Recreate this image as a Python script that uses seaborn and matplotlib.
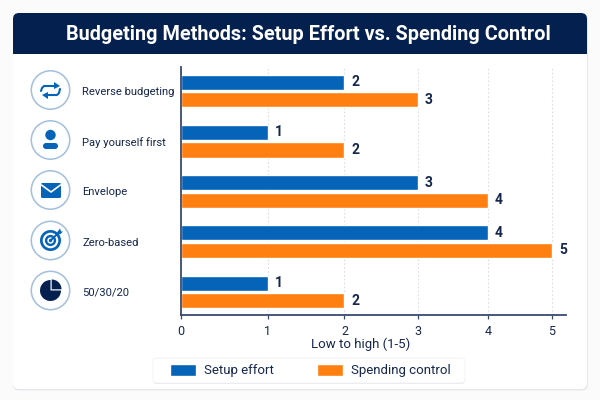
from matplotlib.patches import Circle, FancyBboxPatch, Polygon, Rectangle, Wedge
import matplotlib.pyplot as plt
import numpy as np
import pandas as pd
import seaborn as sns

# ── Data ─────────────────────────────────────────────────────────────────────
METHODS = ["Reverse budgeting", "Pay yourself first", "Envelope", "Zero-based", "50/30/20"]
SETUP_EFFORT = [2, 1, 3, 4, 1]
SPENDING_CONTROL = [3, 2, 4, 5, 2]
X_TICKS = [0, 1, 2, 3, 4, 5]

NAVY = "#04204f"
INK = "#15264d"
BLUE = "#0563b8"
ORANGE = "#ff7f11"

# the reference spaces its axis unevenly, so the scale follows its tick spacing
SCALE_VALUES = [0, 1, 2, 3, 4, 5, 6]
SCALE_STOPS = [0, 87, 163.5, 237, 307, 371, 435]

df = pd.DataFrame({
    "Method": METHODS * 2,
    "Score": SETUP_EFFORT + SPENDING_CONTROL,
    "Series": ["Setup effort"] * 5 + ["Spending control"] * 5,
})

sns.set_theme(style="white")
plt.rcParams["font.family"] = ["Roboto", "DejaVu Sans"]

fig = plt.figure(figsize=(6, 4), dpi=100, facecolor="#fbfbfc")

# ── Card, header and icons, in pixel coordinates ─────────────────────────────
bg = fig.add_axes([0, 0, 1, 1], zorder=0)
bg.set_xlim(0, 600)
bg.set_ylim(400, 0)
bg.axis("off")
bg.add_patch(FancyBboxPatch((13, 14), 575, 376.5, boxstyle="round,pad=0,rounding_size=6",
                            fc="#dfe2e7", ec="none", alpha=0.8))
bg.add_patch(FancyBboxPatch((13, 13), 574, 376, boxstyle="round,pad=0,rounding_size=6",
                            fc="white", ec="none"))
bg.add_patch(FancyBboxPatch((13, 13), 574, 40, boxstyle="round,pad=0,rounding_size=6",
                            fc=NAVY, ec="none"))
bg.add_patch(Rectangle((13, 30), 574, 23.5, fc=NAVY, ec="none"))
bg.text(308.5, 34, "Budgeting Methods: Setup Effort vs. Spending Control",
        color="white", fontsize=14.3, fontweight="bold", ha="center", va="center")

# legend box
bg.add_patch(FancyBboxPatch((153, 359), 312, 25, boxstyle="round,pad=0,rounding_size=4",
                            fc="#e2e4e9", ec="none", alpha=0.8))
bg.add_patch(FancyBboxPatch((153, 358), 312, 25, boxstyle="round,pad=0,rounding_size=4",
                            fc="white", ec="#f0f1f4", lw=0.6))

ICON_X = 50.5
ICON_Y = [90, 140, 190, 240.5, 290.5]
for y in ICON_Y:
    bg.add_patch(Circle((ICON_X, y), 19.2, fc="#fdfeff", ec="#a3bfdb", lw=1.1))

# reverse arrows
y = ICON_Y[0]
bg.plot([41, 42, 44, 56], [y + 1, y - 2, y - 4, y - 4], color=BLUE, lw=1.5, solid_capstyle="round")
bg.plot([60, 59, 57, 46], [y - 1, y + 3, y + 5, y + 5], color=BLUE, lw=1.5, solid_capstyle="round")
bg.add_patch(Polygon([[54, y - 8], [60, y - 4], [54, y - 1]], fc=BLUE, ec="none"))
bg.add_patch(Polygon([[48, y + 2], [42, y + 5], [48, y + 9]], fc=BLUE, ec="none"))

# person
y = ICON_Y[1]
bg.add_patch(Circle((ICON_X, y - 5), 5.2, fc=BLUE, ec="none"))
bg.add_patch(FancyBboxPatch((43, y + 3), 15, 6, boxstyle="round,pad=0,rounding_size=3",
                            fc=BLUE, ec="none"))

# envelope
y = ICON_Y[2]
bg.add_patch(FancyBboxPatch((41, y - 7), 20, 15, boxstyle="round,pad=0,rounding_size=1.5",
                            fc=BLUE, ec="none"))
bg.plot([41.5, 51, 60.5], [y - 5, y + 2, y - 5], color="white", lw=1.2)

# target
y = ICON_Y[3]
for r, fc in [(10.5, BLUE), (7.8, "white"), (5.6, BLUE), (3.2, "white"), (1.7, BLUE)]:
    bg.add_patch(Circle((ICON_X, y), r, fc=fc, ec="none"))
bg.plot([ICON_X, 60], [y, y - 9], color=BLUE, lw=1.4)
bg.add_patch(Polygon([[57, y - 8], [60, y - 12], [61, y - 9], [63, y - 9], [60, y - 6]],
                     fc=BLUE, ec="none"))

# pie
y = ICON_Y[4]
bg.add_patch(Wedge((ICON_X, y), 10.5, 0, 270, fc=NAVY, ec="none"))
bg.add_patch(Wedge((ICON_X + 1.2, y - 1.2), 9.8, 270, 360, fc=NAVY, ec="none"))

# ── Chart ────────────────────────────────────────────────────────────────────
ax = fig.add_axes([181 / 600, 1 - 315 / 400, (566 - 181) / 600, (315 - 67) / 400], zorder=1)
ax.patch.set_alpha(0)

sns.barplot(data=df, y="Method", x="Score", hue="Series", order=METHODS,
            palette=[BLUE, ORANGE], saturation=1, width=0.70, gap=0.14, ax=ax, orient="h")

ax.set_xscale("function", functions=(
    lambda v: np.interp(v, SCALE_VALUES, SCALE_STOPS),
    lambda p: np.interp(p, SCALE_STOPS, SCALE_VALUES),
))
ax.set_xticks(X_TICKS)
ax.set_xlim(0, 5.22)
ax.set_ylim(4.46, -0.478)

ax.grid(axis="x", linestyle=(0, (1.5, 2)), color="#d9dde4", linewidth=0.8)
ax.set_axisbelow(True)
sns.despine(ax=ax)
for side in ["left", "bottom"]:
    ax.spines[side].set_color("#3a4a6e")
    ax.spines[side].set_linewidth(1.3)

ax.tick_params(axis="x", length=3, width=0.9, color="#3a4a6e", pad=4, labelsize=9,
               labelcolor=INK, bottom=True)
ax.tick_params(axis="y", length=0, pad=71, labelsize=8.1, labelcolor=INK)
for label in ax.get_yticklabels():
    label.set_ha("left")
    label.set_y(label.get_position()[1])

ax.set_ylabel("")
ax.set_xlabel("Low to high (1-5)", fontsize=9.5, color=INK)
ax.xaxis.set_label_coords((361 - 181) / 385, -0.117)
ax.xaxis.label.set_va("center")

for bars in ax.containers:
    ax.bar_label(bars, fmt="%d", padding=5, fontsize=10, fontweight="bold", color=INK)

handles, labels = ax.get_legend_handles_labels()
ax.legend_.remove()
fig.legend(handles, labels, loc="center", bbox_to_anchor=(310.6 / 600, 1 - 370.5 / 400),
           ncols=2, fontsize=9.5, labelcolor=INK, frameon=False,
           handlelength=1.95, handleheight=1.05, handletextpad=0.65, columnspacing=3.25,
           borderpad=0, borderaxespad=0)

fig.savefig("out.png", dpi=100)
